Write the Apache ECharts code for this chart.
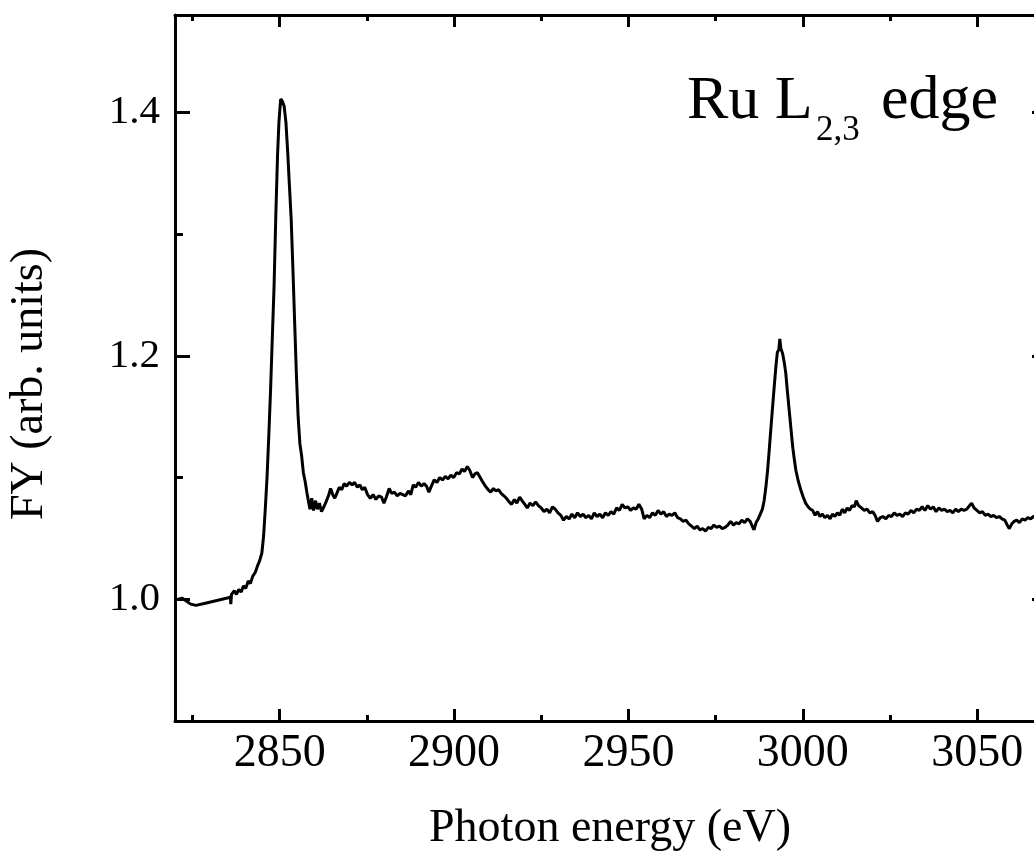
<!DOCTYPE html>
<html><head><meta charset="utf-8">
<script src="https://cdn.jsdelivr.net/npm/echarts@6/dist/echarts.min.js"></script>
<style>html,body{margin:0;padding:0;overflow:hidden;background:#fff}#c{width:1060px;height:855px}</style>
</head><body><div id="c"></div><script>
const energy = [2821.0,2822.0,2823.0,2824.5,2826.0,2829.0,2832.0,2835.0,2835.9,2836.0,2836.2,2837.0,2837.6,2838.3,2839.0,2839.6,2840.3,2841.0,2841.6,2842.3,2843.0,2843.6,2844.3,2844.9,2845.4,2845.9,2846.4,2846.9,2847.4,2847.9,2848.4,2848.9,2849.4,2849.8,2850.3,2850.8,2851.3,2851.8,2852.3,2852.8,2853.3,2853.8,2854.3,2854.8,2855.3,2855.8,2856.3,2856.8,2857.3,2857.8,2858.3,2858.7,2859.2,2859.7,2860.3,2860.8,2861.4,2862.0,2862.7,2863.3,2864.0,2864.6,2865.2,2865.8,2866.4,2867.1,2867.8,2868.5,2869.2,2870.0,2870.8,2871.5,2872.3,2873.0,2873.7,2874.4,2875.2,2876.0,2876.8,2877.6,2878.4,2879.2,2879.9,2880.6,2881.4,2882.1,2882.9,2883.7,2884.5,2885.3,2886.1,2886.9,2887.6,2888.3,2889.0,2889.8,2890.6,2891.4,2892.1,2892.8,2893.5,2894.3,2895.1,2895.9,2896.7,2897.5,2898.3,2899.1,2899.9,2900.7,2901.5,2902.3,2903.0,2903.8,2904.5,2905.3,2906.0,2906.7,2907.5,2908.3,2909.0,2909.8,2910.5,2911.3,2912.0,2912.8,2913.5,2914.3,2915.0,2915.8,2916.5,2917.3,2918.0,2918.8,2919.5,2920.3,2921.0,2921.8,2922.6,2923.4,2924.2,2925.0,2925.8,2926.6,2927.4,2928.2,2929.0,2929.8,2930.6,2931.4,2932.2,2933.0,2933.8,2934.6,2935.4,2936.2,2937.0,2937.8,2938.6,2939.4,2940.2,2941.0,2941.8,2942.6,2943.4,2944.2,2945.0,2945.8,2946.6,2947.4,2948.2,2949.0,2949.8,2950.6,2951.4,2952.2,2953.0,2953.8,2954.5,2955.3,2956.1,2956.9,2957.7,2958.5,2959.3,2960.1,2960.9,2961.7,2962.5,2963.3,2964.1,2964.9,2965.7,2966.5,2967.3,2968.1,2968.9,2969.7,2970.5,2971.3,2972.1,2972.9,2973.7,2974.5,2975.3,2976.1,2976.9,2977.7,2978.5,2979.3,2980.1,2980.9,2981.7,2982.5,2983.3,2984.1,2984.9,2985.5,2986.0,2986.6,2987.2,2987.8,2988.4,2988.9,2989.4,2989.9,2990.4,2990.8,2991.3,2991.8,2992.3,2992.7,2993.1,2993.4,2993.7,2994.2,2994.7,2995.1,2995.6,2996.1,2996.6,2997.1,2997.6,2998.0,2998.7,2999.4,3000.1,3000.8,3001.5,3002.2,3002.8,3003.5,3004.2,3004.9,3005.6,3006.3,3007.1,3007.8,3008.5,3009.2,3009.9,3010.6,3011.3,3012.0,3012.7,3013.4,3014.1,3014.8,3015.3,3016.0,3016.8,3017.6,3018.4,3019.2,3020.0,3020.7,3021.4,3022.2,3023.0,3023.8,3024.6,3025.4,3026.2,3027.0,3027.8,3028.6,3029.4,3030.2,3031.0,3031.8,3032.6,3033.4,3034.2,3035.0,3035.8,3036.6,3037.4,3038.2,3039.0,3039.8,3040.6,3041.4,3042.2,3043.0,3043.8,3044.6,3045.4,3046.2,3047.0,3047.8,3048.4,3049.1,3049.9,3050.7,3051.5,3052.3,3053.1,3053.9,3054.7,3055.5,3056.3,3057.1,3057.9,3058.6,3059.2,3059.9,3060.6,3061.3,3062.1,3062.9,3063.7,3064.5,3065.3,3066.1,3067.0,3068.0];
const fy = [1.000,1.001,0.999,0.996,0.995,0.997,0.999,1.001,1.002,0.996,1.004,1.007,1.004,1.008,1.006,1.011,1.009,1.015,1.013,1.019,1.022,1.027,1.032,1.038,1.052,1.075,1.101,1.135,1.172,1.215,1.257,1.315,1.365,1.392,1.411,1.409,1.405,1.392,1.368,1.340,1.313,1.272,1.228,1.185,1.150,1.128,1.118,1.104,1.097,1.088,1.080,1.074,1.083,1.073,1.081,1.074,1.079,1.072,1.076,1.080,1.085,1.091,1.086,1.083,1.087,1.092,1.090,1.095,1.093,1.096,1.094,1.096,1.092,1.094,1.090,1.092,1.086,1.083,1.086,1.082,1.085,1.084,1.079,1.084,1.091,1.087,1.088,1.085,1.087,1.086,1.085,1.089,1.086,1.094,1.092,1.096,1.093,1.095,1.093,1.088,1.093,1.098,1.096,1.100,1.098,1.101,1.099,1.102,1.100,1.104,1.103,1.107,1.105,1.109,1.106,1.100,1.103,1.104,1.100,1.096,1.093,1.090,1.088,1.091,1.089,1.090,1.087,1.085,1.083,1.080,1.078,1.082,1.079,1.084,1.081,1.078,1.075,1.079,1.077,1.080,1.077,1.075,1.072,1.074,1.071,1.076,1.074,1.071,1.069,1.065,1.068,1.066,1.070,1.067,1.071,1.068,1.070,1.067,1.069,1.066,1.071,1.068,1.070,1.067,1.071,1.069,1.072,1.070,1.075,1.073,1.078,1.075,1.076,1.073,1.075,1.074,1.078,1.074,1.066,1.069,1.067,1.071,1.069,1.073,1.070,1.072,1.068,1.070,1.069,1.071,1.067,1.066,1.064,1.065,1.062,1.060,1.058,1.060,1.057,1.058,1.056,1.059,1.058,1.061,1.059,1.060,1.058,1.059,1.061,1.064,1.061,1.063,1.062,1.065,1.063,1.066,1.064,1.060,1.057,1.063,1.066,1.070,1.074,1.081,1.092,1.106,1.124,1.139,1.157,1.175,1.192,1.203,1.205,1.214,1.206,1.202,1.194,1.186,1.170,1.155,1.140,1.125,1.114,1.106,1.097,1.090,1.084,1.079,1.076,1.074,1.073,1.069,1.072,1.068,1.070,1.067,1.069,1.066,1.070,1.068,1.071,1.069,1.074,1.071,1.075,1.073,1.077,1.076,1.081,1.077,1.075,1.073,1.074,1.071,1.072,1.069,1.064,1.067,1.068,1.066,1.069,1.068,1.071,1.069,1.070,1.068,1.071,1.070,1.073,1.071,1.074,1.073,1.076,1.073,1.077,1.074,1.076,1.072,1.075,1.073,1.074,1.072,1.073,1.071,1.074,1.072,1.074,1.073,1.074,1.077,1.079,1.075,1.073,1.071,1.072,1.069,1.070,1.068,1.069,1.067,1.068,1.066,1.065,1.061,1.058,1.062,1.064,1.065,1.063,1.066,1.065,1.067,1.066,1.068,1.067,1.068];
const xMajorTicks = [2850, 2900, 2950, 3000, 3050];
const xMinorTicks = [2825, 2875, 2925, 2975, 3025];
const yMajorTicks = [1.0, 1.2, 1.4];
const yMinorTicks = [1.1, 1.3];
const xTitle = 'Photon energy (eV)';
const yTitle = 'FY (arb. units)';

const FONT = "'Liberation Serif', 'Times New Roman', serif";
const X_MIN = 2820, X_MAX = 3070, Y_MIN = 0.9, Y_MAX = 1.48;

function xAx(pos, ticks, len, withLine, withLabels) {
  return {
    type: 'value', position: pos, min: X_MIN, max: X_MAX,
    axisLine: { show: withLine, lineStyle: { color: '#000', width: 3 } },
    axisTick: { show: true, inside: true, length: len, customValues: ticks, lineStyle: { color: '#000', width: 3 } },
    axisLabel: withLabels ? { show: true, customValues: ticks, fontSize: 46, fontFamily: FONT, color: '#000', margin: 10,
      formatter: v => String(Math.round(v)) } : { show: false },
    splitLine: { show: false }
  };
}
function yAx(pos, ticks, len, withLine, withLabels) {
  return {
    type: 'value', position: pos, min: Y_MIN, max: Y_MAX,
    axisLine: { show: withLine, lineStyle: { color: '#000', width: 3 } },
    axisTick: { show: true, inside: true, length: len, customValues: ticks, lineStyle: { color: '#000', width: 3 } },
    axisLabel: withLabels ? { show: true, customValues: ticks, fontSize: 41, fontFamily: FONT, color: '#000', margin: 15,
      formatter: v => Number(v).toFixed(1) } : { show: false },
    splitLine: { show: false }
  };
}

const chart = echarts.init(document.getElementById('c'), null, { renderer: 'canvas' });
chart.setOption({
  animation: false,
  backgroundColor: '#fff',
  grid: { left: 175, right: 13, top: 15, bottom: 134, containLabel: false },
  xAxis: [
    xAx('bottom', xMajorTicks, 12, true, true),
    xAx('bottom', xMinorTicks, 6, false, false),
    xAx('top', xMajorTicks, 12, true, false),
    xAx('top', xMinorTicks, 6, false, false)
  ],
  yAxis: [
    yAx('left', yMajorTicks, 15, true, true),
    yAx('left', yMinorTicks, 8, false, false),
    yAx('right', yMajorTicks, 15, true, false),
    yAx('right', yMinorTicks, 8, false, false)
  ],
  series: [{
    type: 'line', xAxisIndex: 0, yAxisIndex: 0,
    data: energy.map((e, i) => [e, fy[i]]),
    showSymbol: false, symbol: 'none', smooth: false,
    lineStyle: { color: '#000', width: 3 }
  }],
  graphic: [
    { type: 'text', x: 610, y: 829, style: { text: xTitle, font: "46px " + FONT, fill: '#000', align: 'center', verticalAlign: 'middle' } },
    { type: 'text', x: 30, y: 384, rotation: Math.PI / 2, style: { text: yTitle, font: "46px " + FONT, fill: '#000', align: 'center', verticalAlign: 'middle' } },
    { type: 'text', x: 687, y: 102, style: { text: 'Ru L', font: "62px " + FONT, fill: '#000', align: 'left', verticalAlign: 'middle' } },
    { type: 'text', x: 816, y: 131, style: { text: '2,3', font: "35px " + FONT, fill: '#000', align: 'left', verticalAlign: 'middle' } },
    { type: 'text', x: 881, y: 102, style: { text: 'edge', font: "62px " + FONT, fill: '#000', align: 'left', verticalAlign: 'middle' } }
  ]
});
</script></body></html>
